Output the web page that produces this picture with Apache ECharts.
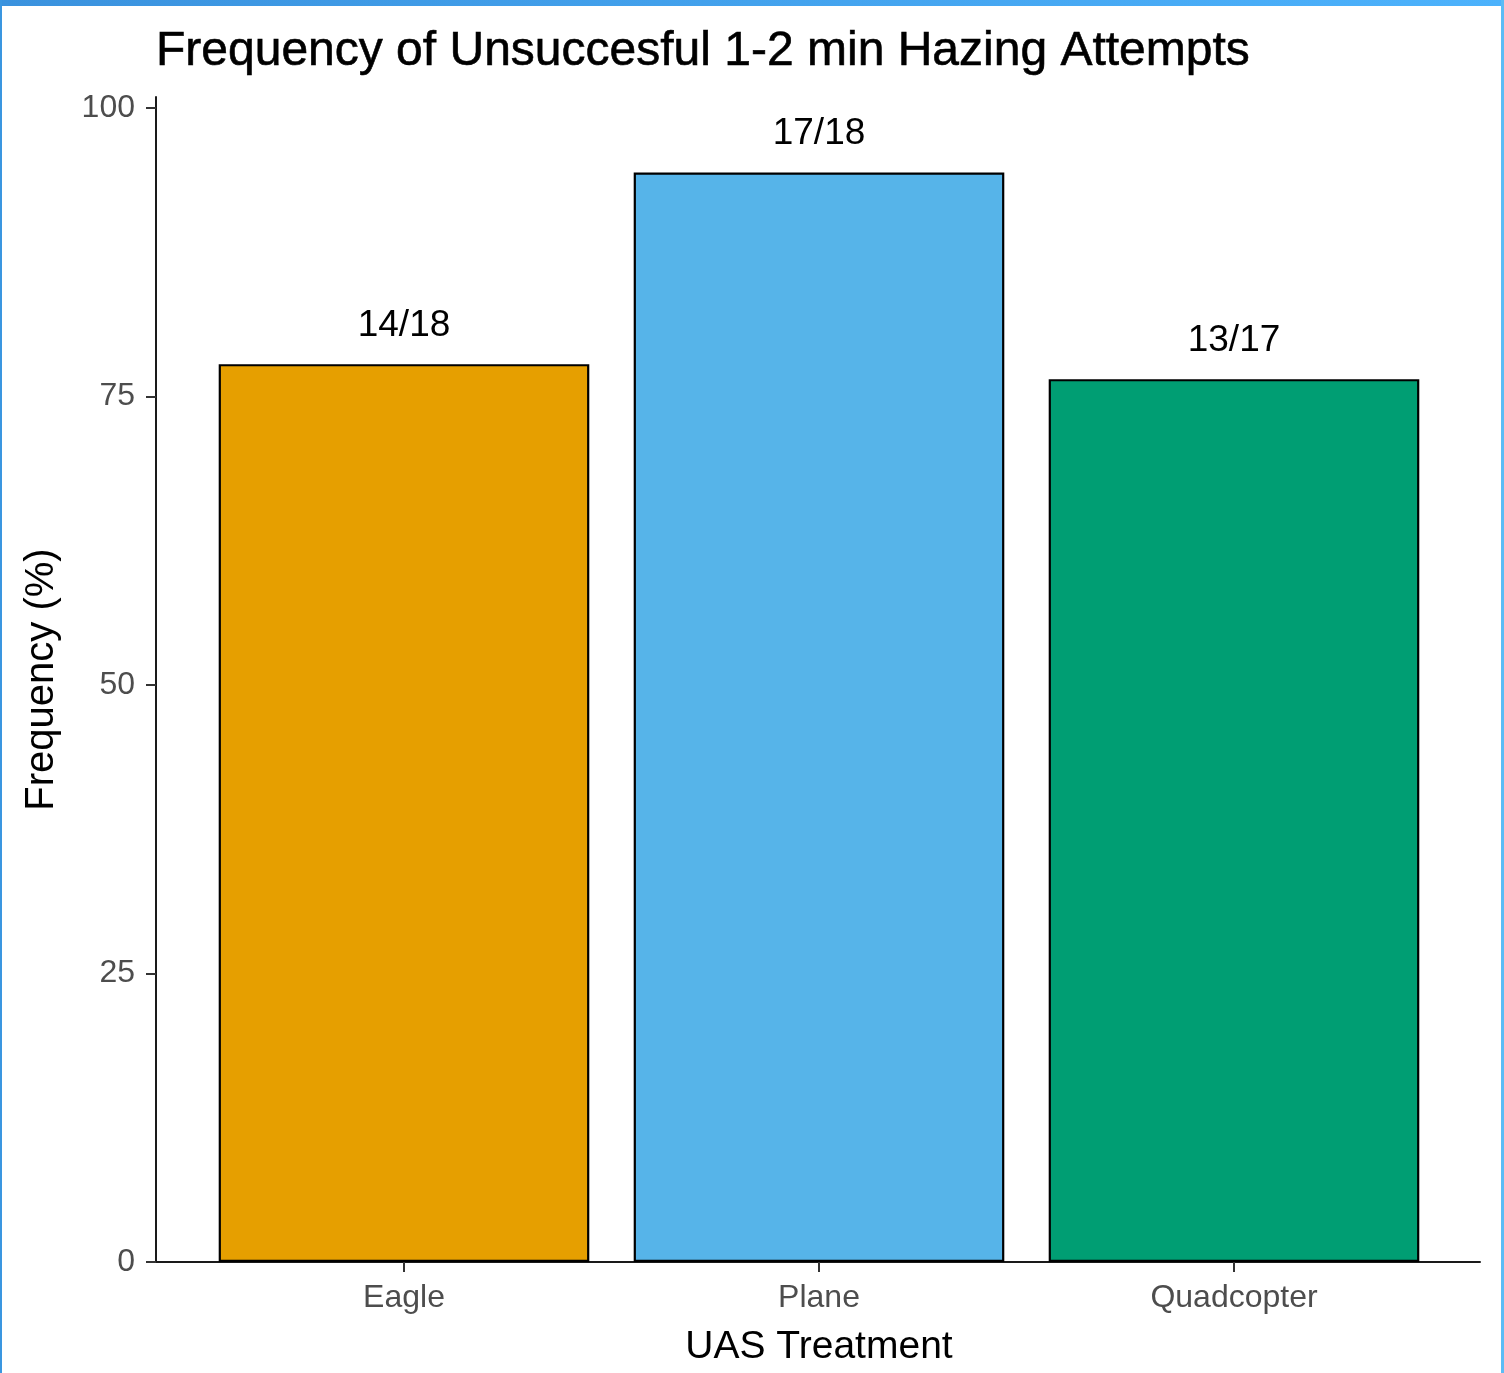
<!DOCTYPE html>
<html>
<head>
<meta charset="utf-8">
<script src="https://cdn.jsdelivr.net/npm/echarts@6/dist/echarts.min.js"></script>
<style>
  html, body { margin: 0; padding: 0; background: #fff; }
  #wrap { position: relative; width: 1504px; height: 1373px; overflow: hidden; }
  #chart { position: absolute; left: 0; top: 0; width: 1504px; height: 1373px; }
  .bd { position: absolute; z-index: 5; }
</style>
</head>
<body>
<div id="wrap">
  <div id="chart"></div>
  <div class="bd" style="left:0;top:0;width:1504px;height:6px;background:linear-gradient(90deg,#3a92de,#4cb2fc);"></div>
  <div class="bd" style="left:0;top:0;width:2px;height:1373px;background:#3a96e0;"></div>
  <div class="bd" style="left:1501px;top:0;width:3px;height:1373px;background:#5bbcf5;"></div>
</div>
<script>
const categories = ['Eagle', 'Plane', 'Quadcopter'];
const frequency = [77.8, 94.4, 76.5];
const barLabels = ['14/18', '17/18', '13/17'];
const barColors = ['#E69F00', '#56B4E9', '#009E73'];
const yTicks = [0, 25, 50, 75, 100];

const FONT = "'Liberation Sans', Arial, sans-serif";
const Y_MAX = 100.95;

const chart = echarts.init(document.getElementById('chart'), null, { renderer: 'canvas' });
chart.setOption({
  backgroundColor: '#ffffff',
  animation: false,
  title: {
    text: 'Frequency of Unsuccesful 1-2 min Hazing Attempts',
    left: 151, top: 23,
    textStyle: { fontFamily: FONT, fontSize: 48, fontWeight: 'normal', color: '#000',
                 textBorderColor: '#000', textBorderWidth: 0.6 }
  },
  grid: [
    { left: 156, top: 97, width: 1324, height: 1165 },
    { left: 196.5, top: 97, width: 1245, height: 1165 }
  ],
  xAxis: [
    {
      gridIndex: 0, type: 'value', min: 0, max: 1,
      axisLine: { show: true, onZero: false, lineStyle: { color: '#1a1a1a', width: 2 } },
      axisTick: { show: false }, axisLabel: { show: false }, splitLine: { show: false }
    },
    {
      gridIndex: 1, type: 'category', data: categories, boundaryGap: true,
      axisLine: { show: false },
      axisTick: { show: true, alignWithLabel: true, length: 10, lineStyle: { color: '#333', width: 2 } },
      axisLabel: { margin: 20, fontFamily: FONT, fontSize: 32, color: '#4D4D4D' },
      splitLine: { show: false },
      name: 'UAS Treatment', nameLocation: 'middle', nameGap: 66,
      nameTextStyle: { fontFamily: FONT, fontSize: 39, color: '#000' }
    }
  ],
  yAxis: [
    {
      gridIndex: 0, type: 'value', min: 0, max: Y_MAX,
      axisLine: { show: true, onZero: false, lineStyle: { color: '#1a1a1a', width: 2 } },
      axisTick: { show: true, length: 10, customValues: yTicks, lineStyle: { color: '#333', width: 2 } },
      axisLabel: { margin: 21, customValues: yTicks, fontFamily: FONT, fontSize: 32, color: '#4D4D4D' },
      splitLine: { show: false },
      name: 'Frequency (%)', nameLocation: 'middle', nameGap: 94, nameRotate: 90,
      nameTextStyle: { fontFamily: FONT, fontSize: 40, color: '#000' }
    },
    {
      gridIndex: 1, type: 'value', min: 0, max: Y_MAX, show: false
    }
  ],
  series: [{
    type: 'bar',
    xAxisIndex: 1, yAxisIndex: 1,
    barWidth: '89.3%',
    data: frequency.map((v, i) => ({
      value: v,
      itemStyle: { color: barColors[i], borderColor: '#000', borderWidth: 2.2 },
      label: { formatter: barLabels[i] }
    })),
    label: {
      show: true, position: 'top', distance: 20,
      fontFamily: FONT, fontSize: 37, color: '#000'
    }
  }]
});
</script>
</body>
</html>
